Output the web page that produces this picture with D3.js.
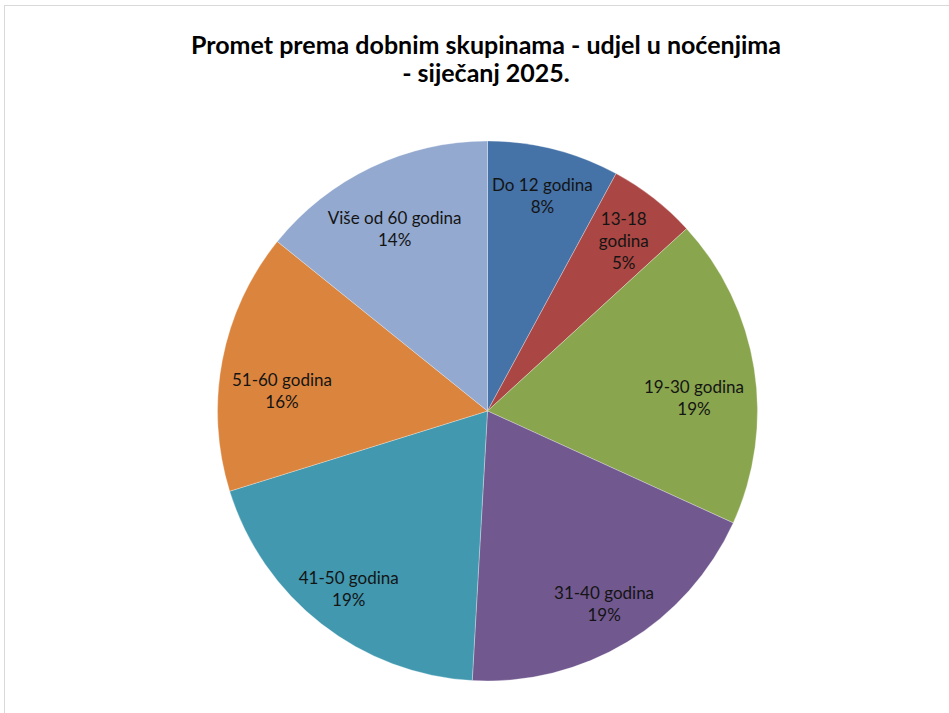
<!DOCTYPE html>
<html>
<head>
<meta charset="utf-8">
<script src="https://cdn.jsdelivr.net/npm/d3@7"></script>
<style>
  html, body { margin: 0; padding: 0; background: #ffffff; }
  svg { display: block; }
</style>
</head>
<body>
<script>
const titleLines = ["Promet prema dobnim skupinama - udjel u noćenjima", "- siječanj 2025."];
const categories = ["Do 12 godina", "13-18 godina", "19-30 godina", "31-40 godina", "41-50 godina", "51-60 godina", "Više od 60 godina"];
const shares = [7.9, 5.3, 18.6, 19.1, 19.3, 15.6, 14.2];
const colors = ["#4572A7", "#AA4643", "#89A54E", "#71588F", "#4198AF", "#DB843D", "#93A9CF"];

const W = 949, H = 713;
const cx = 487.5, cy = 411, R = 270;
const labelFont = 17, lineH = 22;

const svg = d3.select("body").append("svg").attr("width", W).attr("height", H);

svg.append("rect")
  .attr("x", 4.5).attr("y", 5.5).attr("width", 1000).attr("height", 1000)
  .attr("fill", "#ffffff").attr("stroke", "#d9d9d9").attr("stroke-width", 1);

svg.append("g").selectAll("text").data(titleLines).join("text")
  .attr("x", 486)
  .attr("y", (d, i) => 53.5 + i * 28.5)
  .attr("text-anchor", "middle")
  .style("font-family", "Lato, 'Open Sans', sans-serif")
  .style("font-weight", "700")
  .style("font-size", "25px")
  .attr("fill", "#000")
  .text(d => d);

const data = categories.map((c, i) => ({ name: c, value: shares[i], color: colors[i] }));
const total = d3.sum(shares);
const pie = d3.pie().sort(null).value(d => d.value).startAngle(0).endAngle(2 * Math.PI);
const arcs = pie(data);
const arc = d3.arc().innerRadius(0).outerRadius(R);

const g = svg.append("g").attr("transform", `translate(${cx},${cy})`);

g.selectAll("path").data(arcs).join("path")
  .attr("d", arc)
  .attr("fill", d => d.data.color)
  .attr("stroke", "#ffffff")
  .attr("stroke-opacity", 0.5)
  .attr("stroke-width", 0.6);

const labels = g.selectAll("g.lbl").data(arcs).join("g").attr("class", "lbl");

labels.each(function(d) {
  const sel = d3.select(this);
  const pct = Math.round(d.data.value / total * 100) + "%";
  const frac = (d.endAngle - d.startAngle) / (2 * Math.PI);
  const lines = frac < 0.065 ? d.data.name.split(" ").concat([pct]) : [d.data.name, pct];
  const t = sel.append("text")
    .attr("text-anchor", "middle")
    .style("font-family", "Lato, 'Open Sans', sans-serif")
    .style("font-size", labelFont + "px")
    .attr("fill", "#141414");
  const tsp = t.selectAll("tspan").data(lines).join("tspan").attr("x", 0).text(s => s);
  let w = 0;
  tsp.each(function() { w = Math.max(w, this.getComputedTextLength()); });
  const h = lines.length * lineH;
  tsp.attr("y", (s, i) => -h / 2 + i * lineH + lineH / 2 + labelFont * 0.35);
  const a = (d.startAngle + d.endAngle) / 2;
  const ux = Math.sin(a), uy = -Math.cos(a);
  const r0 = 0.835 * R;
  let x0 = r0 * ux, y0 = r0 * uy;
  const lim = R - 11;
  const fits = (px0, py0) => {
    for (const sx of [-1, 1]) for (const sy of [-1, 1]) {
      if (Math.hypot(px0 + sx * w / 2, py0 + sy * h / 2) > lim) return false;
    }
    return true;
  };
  if (uy < 0) {
    // best-fit: slide label toward the bottom of the pie until it is inside
    const dx = 0 - x0, dy = R - y0, L = Math.hypot(dx, dy);
    let s = 0;
    while (s < 200 && !fits(x0 + dx / L * s, y0 + dy / L * s)) s += 0.5;
    x0 += dx / L * s; y0 += dy / L * s;
  }
  sel.attr("transform", `translate(${x0},${y0})`);
});
</script>
</body>
</html>
